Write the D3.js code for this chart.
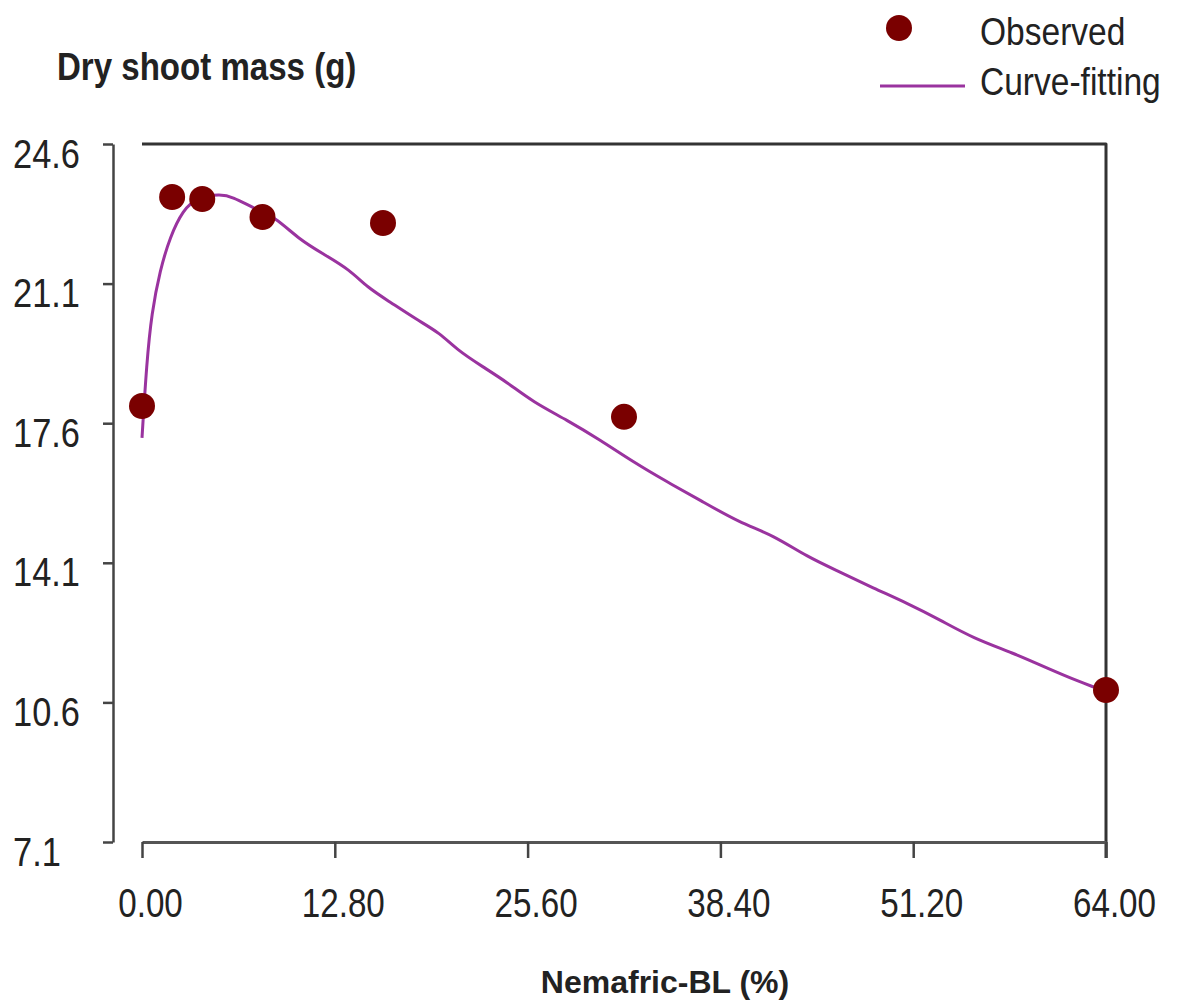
<!DOCTYPE html>
<html>
  <head>
    <meta charset="utf-8">
    <style>
      body { margin: 0; background: #fff; }
      text { font-family: "Liberation Sans", Arial, sans-serif; fill: #222; }
    </style>
  </head>
  <body>
    <script src="https://d3js.org/d3.v7.min.js"></script>
    <script>
// observed points
const obsX = [0, 2, 4, 8, 16, 32, 64];
const obsY = [18.03, 23.27, 23.22, 22.77, 22.62, 17.76, 10.91];

// fitted curve
const curveX = [0, 0.31, 0.64, 1.2, 1.86, 2.72, 3.65, 5.18, 6.04, 7.37, 8.83, 10.49, 12.15, 13.81, 14.94,
  16.46, 18.26, 19.78, 20.91, 22.64, 24.23, 25.96, 28.22, 30.41, 32.6, 34.85, 37.05, 39.7, 41.89,
  44.15, 46.34, 48.53, 50.79, 52.98, 55.17, 57.83, 60.08, 62.27, 63.4, 64];
const curveY = [17.23, 19.11, 20.36, 21.44, 22.27, 22.95, 23.25, 23.35, 23.27, 23.0, 22.77, 22.19, 21.82, 21.44, 21.01,
  20.64, 20.19, 19.86, 19.44, 19.01, 18.63, 18.13, 17.68, 17.18, 16.63, 16.13, 15.67, 15.1, 14.8,
  14.25, 13.87, 13.47, 13.09, 12.67, 12.21, 11.84, 11.46, 11.11, 10.96, 10.86];

const xTicks = [0, 12.8, 25.6, 38.4, 51.2, 64];
const yTicks = [7.1, 10.6, 14.1, 17.6, 21.1, 24.6];

const WIDTH = 1185
const HEIGHT = 1004
const POINT_COLOR = '#7a0000'
const LINE_COLOR = '#9a339f'

const svg = d3.select('body').append('svg')
  .attr('width', WIDTH)
  .attr('height', HEIGHT);

svg.append('rect').attr('width', WIDTH).attr('height', HEIGHT).attr('fill', '#fff');

const x = d3.scaleLinear().domain([0, 64]).range([142, 1106]);
const y = d3.scaleLinear().domain([7.1, 24.6]).range([842, 144]);

// top + right frame
svg.append('path')
  .attr('d', `M${x(0)},${y(24.6)}H${x(64)}V858`)
  .attr('fill', 'none')
  .attr('stroke', '#333')
  .attr('stroke-width', 3)
  .attr('stroke-linejoin', 'round');

// y axis
const yAxis = svg.append('g')
  .attr('transform', 'translate(113,0)')
  .call(d3.axisLeft(y).tickValues(yTicks).tickSize(10).tickSizeOuter(0).tickFormat(d3.format('.1f')));
yAxis.select('.domain').attr('stroke', '#444').attr('stroke-width', 2.5);
yAxis.selectAll('.tick line').attr('stroke', '#444').attr('stroke-width', 2.5);
yAxis.selectAll('.tick text')
  .attr('x', 0).attr('dy', '0.35em')
  .attr('text-anchor', 'start')
  .attr('transform', 'translate(-100,9) scale(0.86,1)')
  .attr('font-size', 40)
  .attr('fill', '#222');

// x axis
const xAxis = svg.append('g')
  .attr('transform', 'translate(0,842)')
  .call(d3.axisBottom(x).tickValues(xTicks).tickSize(16).tickSizeOuter(0).tickFormat(d3.format('.2f')));
xAxis.select('.domain').attr('stroke', '#555').attr('stroke-width', 3);
xAxis.selectAll('.tick line').attr('stroke', '#444').attr('stroke-width', 2.5);
xAxis.selectAll('.tick text')
  .attr('y', 0).attr('dy', 0)
  .attr('transform', 'translate(8,75) scale(0.83,1)')
  .attr('font-size', 40)
  .attr('fill', '#222');

// curve
const curveData = curveX.map((d, i) => [d, curveY[i]]);
svg.append('path')
  .datum(curveData)
  .attr('fill', 'none')
  .attr('stroke', LINE_COLOR)
  .attr('stroke-width', 3)
  .attr('d', d3.line().x(d => x(d[0])).y(d => y(d[1])).curve(d3.curveBasis));

// observed points
svg.selectAll('circle.obs')
  .data(obsX.map((d, i) => [d, obsY[i]]))
  .enter()
  .append('circle')
  .attr('class', 'obs')
  .attr('cx', d => x(d[0]))
  .attr('cy', d => y(d[1]))
  .attr('r', 13)
  .attr('fill', POINT_COLOR);

// titles
svg.append('text')
  .attr('transform', 'translate(57,80) scale(0.87,1)')
  .attr('font-size', 38)
  .attr('font-weight', 'bold')
  .text('Dry shoot mass (g)');

svg.append('text')
  .attr('x', 665)
  .attr('y', 993)
  .attr('text-anchor', 'middle')
  .attr('font-size', 32)
  .attr('font-weight', 'bold')
  .attr('fill', '#000')
  .text('Nemafric-BL (%)');

// legend
svg.append('circle').attr('cx', 899).attr('cy', 28).attr('r', 13).attr('fill', POINT_COLOR);
svg.append('line')
  .attr('x1', 880).attr('x2', 965).attr('y1', 86).attr('y2', 86)
  .attr('stroke', LINE_COLOR).attr('stroke-width', 3);
svg.append('text')
  .attr('transform', 'translate(980,45) scale(0.86,1)')
  .attr('font-size', 39)
  .text('Observed');
svg.append('text')
  .attr('transform', 'translate(980,95) scale(0.86,1)')
  .attr('font-size', 39)
  .text('Curve-fitting');
    </script>
  </body>
</html>
